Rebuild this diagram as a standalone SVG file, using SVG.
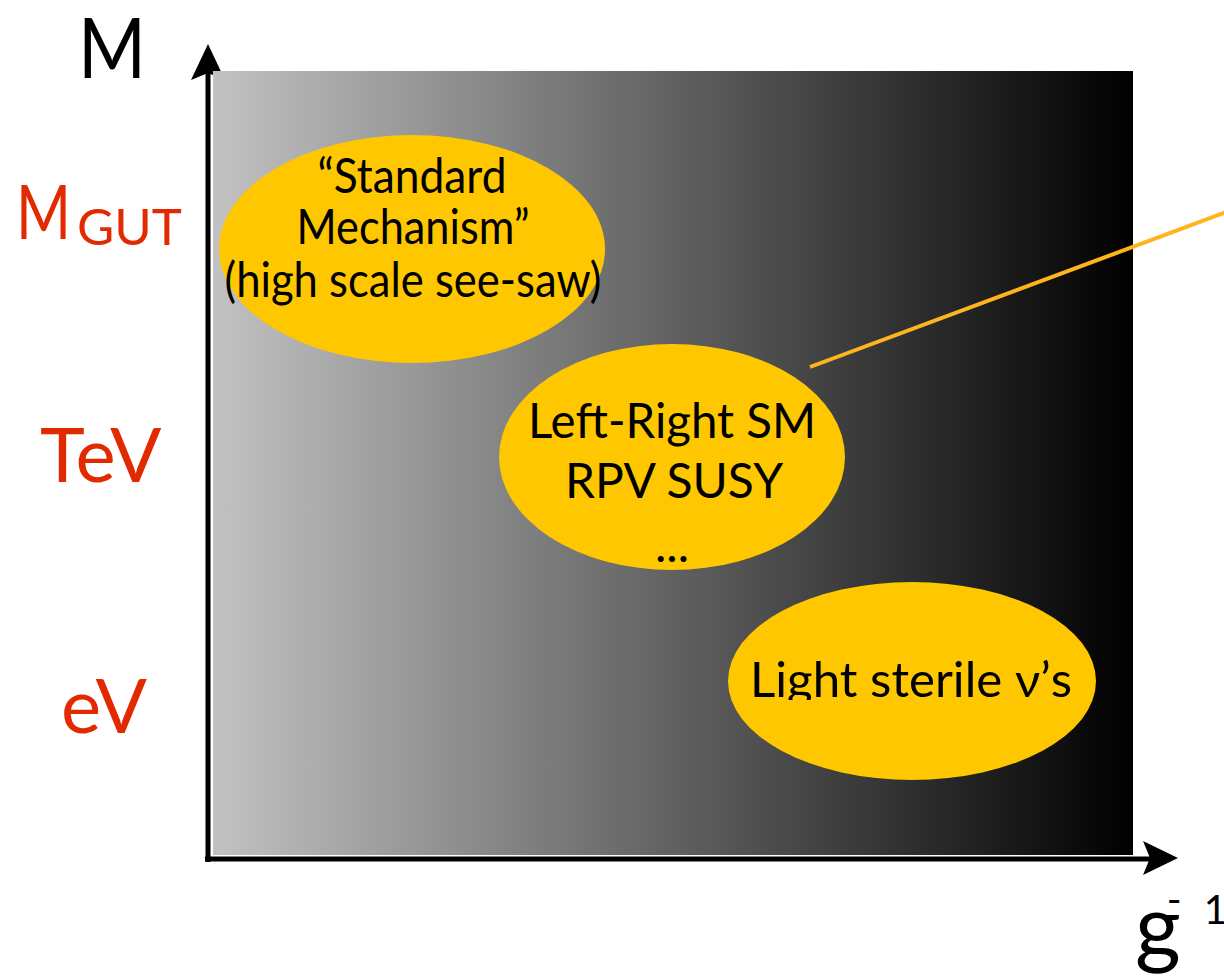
<svg xmlns="http://www.w3.org/2000/svg" width="1224" height="980" viewBox="0 0 1224 980">
  <defs>
    <linearGradient id="bg" x1="0" y1="0" x2="1" y2="0">
      <stop offset="0" stop-color="#c2c2c2"/>
      <stop offset="1" stop-color="#000000"/>
    </linearGradient>
    <clipPath id="clipLight">
      <rect x="700" y="560" width="420" height="140"/>
    </clipPath>
    <style>
      .lbl { font-family: "Lato", "Liberation Sans", sans-serif; }
      .red { fill: #e22a00; }
      .blob { fill: #ffc700; }
      .in { font-family: "Lato", "Liberation Sans", sans-serif; fill: #000; text-anchor: middle; }
      .axis { stroke: #000; stroke-width: 5; fill: none; }
    </style>
  </defs>
  <rect width="1224" height="980" fill="#fff"/>

  <g id="axes">
    <line class="axis" x1="208" y1="862" x2="208" y2="70"/>
    <polygon points="208,44 191,80 208,73 225,80" fill="#000"/>
    <line class="axis" x1="205" y1="859" x2="1152" y2="859"/>
    <polygon points="1178,858 1143,841 1150,858 1143,875" fill="#000"/>
  </g>

  <g id="background">
    <rect x="213" y="71" width="920" height="784" fill="url(#bg)"/>
  </g>

  <g id="labels" class="lbl">
    <text x="78" y="78" font-size="84" fill="#000" textLength="68" lengthAdjust="spacingAndGlyphs">M</text>
    <text x="16" y="239" class="red" font-size="76" textLength="55" lengthAdjust="spacingAndGlyphs">M</text>
    <text x="77" y="245" class="red" font-size="51" textLength="105" lengthAdjust="spacingAndGlyphs">GUT</text>
    <text x="40" y="482" class="red" font-size="76">TeV</text>
    <text x="61" y="733" class="red" font-size="76">eV</text>
    <text x="1135" y="957" font-size="88" fill="#000">g<tspan dx="-14" dy="-43" font-size="40">-</tspan><tspan dx="22" dy="10" font-size="40">1</tspan></text>
  </g>

  <g id="node-standard">
    <ellipse class="blob" cx="412" cy="249" rx="193" ry="114"/>
    <text class="in" x="412" y="193" font-size="48" textLength="189" lengthAdjust="spacingAndGlyphs">“Standard</text>
    <text class="in" x="413" y="244" font-size="48" textLength="233" lengthAdjust="spacingAndGlyphs">Mechanism”</text>
    <text class="in" x="413" y="297" font-size="48" textLength="377" lengthAdjust="spacingAndGlyphs">(high scale see-saw)</text>
  </g>

  <g id="node-leftright">
    <ellipse class="blob" cx="672" cy="457" rx="173" ry="113"/>
    <text class="in" x="672" y="438" font-size="48" textLength="288" lengthAdjust="spacingAndGlyphs">Left-Right SM</text>
    <text class="in" x="674" y="498" font-size="48">RPV SUSY</text>
    <text class="in" x="672" y="562" font-size="48">...</text>
  </g>

  <g id="node-light">
    <ellipse class="blob" cx="912" cy="681" rx="184" ry="99"/>
    <text class="in" x="911" y="697" font-size="48" clip-path="url(#clipLight)" textLength="322" lengthAdjust="spacingAndGlyphs">Light sterile ν’s</text>
  </g>

  <g id="connectors">
    <line x1="810" y1="367" x2="1240" y2="207" stroke="#ffb41e" stroke-width="4"/>
  </g>
</svg>
